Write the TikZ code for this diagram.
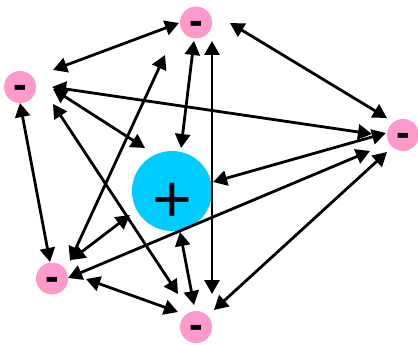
\documentclass[tikz,border=0pt]{standalone}
\usepackage{fontspec}
\setmainfont{Liberation Sans}
\usetikzlibrary{arrows.meta}
\definecolor{ionpink}{RGB}{255,153,204}
\definecolor{ioncyan}{RGB}{0,204,255}
\begin{document}
\begin{tikzpicture}[x=1pt,y=-1pt,
  anion/.style={circle, fill=ionpink, minimum size=32pt, inner sep=0pt,
    font=\fontsize{41}{41}\selectfont\bfseries, text height=23.5pt, text depth=0pt},
  cation/.style={circle, fill=ioncyan, minimum size=80pt, inner sep=0pt,
    font=\fontsize{68}{68}\selectfont, text height=62pt, text depth=0pt},
  bond/.style={line width=2.8pt,
    {Triangle[length=14pt,width=15pt]}-{Triangle[length=14pt,width=15pt]}}]
\useasboundingbox (0,0) rectangle (418,345);

% ions
\node[cation] (C) at (172,191) {+};
\node[anion] (T) at (196,22.5) {-};
\node[anion] (L) at (20,87) {-};
\node[anion] (R) at (403,135) {-};
\node[anion] (BL) at (52,278.5) {-};
\node[anion] (B) at (196,327) {-};

% bond end points
\coordinate (TtoL) at (179,23);   \coordinate (LtoT) at (53,70);
\coordinate (TtoC) at (194,41);   \coordinate (CtoT) at (181,148);
\coordinate (TtoB) at (212,41);   \coordinate (BtoT) at (212,294);
\coordinate (TtoR) at (230,23);   \coordinate (RtoT) at (387,118);
\coordinate (TtoBL) at (165,55);  \coordinate (BLtoT) at (70,261);
\coordinate (LtoR) at (52,87);    \coordinate (RtoL) at (372,134);
\coordinate (LtoC) at (53,89);    \coordinate (CtoL) at (145,148);
\coordinate (LtoB) at (53,104);   \coordinate (BtoL) at (178,294);
\coordinate (LtoBL) at (20,103);  \coordinate (BLtoL) at (50,262);
\coordinate (BLtoC) at (71,260);  \coordinate (CtoBL) at (130,215);
\coordinate (BLtoR) at (68,278);  \coordinate (RtoBL) at (370,151);
\coordinate (BLtoB) at (86,279);  \coordinate (BtoBL) at (178,312);
\coordinate (CtoB) at (180,232);  \coordinate (BtoC) at (194,305);
\coordinate (CtoR) at (213,182);  \coordinate (RtoC) at (386,133);
\coordinate (BtoR) at (214,310);  \coordinate (RtoB) at (387,152);

% bonds
\draw[bond] (TtoL) -- (LtoT);
\draw[bond] (TtoC) -- (CtoT);
\draw[bond] (TtoB) -- (BtoT);
\draw[bond] (TtoR) -- (RtoT);
\draw[bond] (TtoBL) -- (BLtoT);
\draw[bond] (LtoR) -- (RtoL);
\draw[bond] (LtoC) -- (CtoL);
\draw[bond] (LtoB) -- (BtoL);
\draw[bond] (LtoBL) -- (BLtoL);
\draw[bond] (BLtoC) -- (CtoBL);
\draw[bond] (BLtoR) -- (RtoBL);
\draw[bond] (BLtoB) -- (BtoBL);
\draw[bond] (CtoB) -- (BtoC);
\draw[bond] (CtoR) -- (RtoC);
\draw[bond] (BtoR) -- (RtoB);
\end{tikzpicture}
\end{document}
